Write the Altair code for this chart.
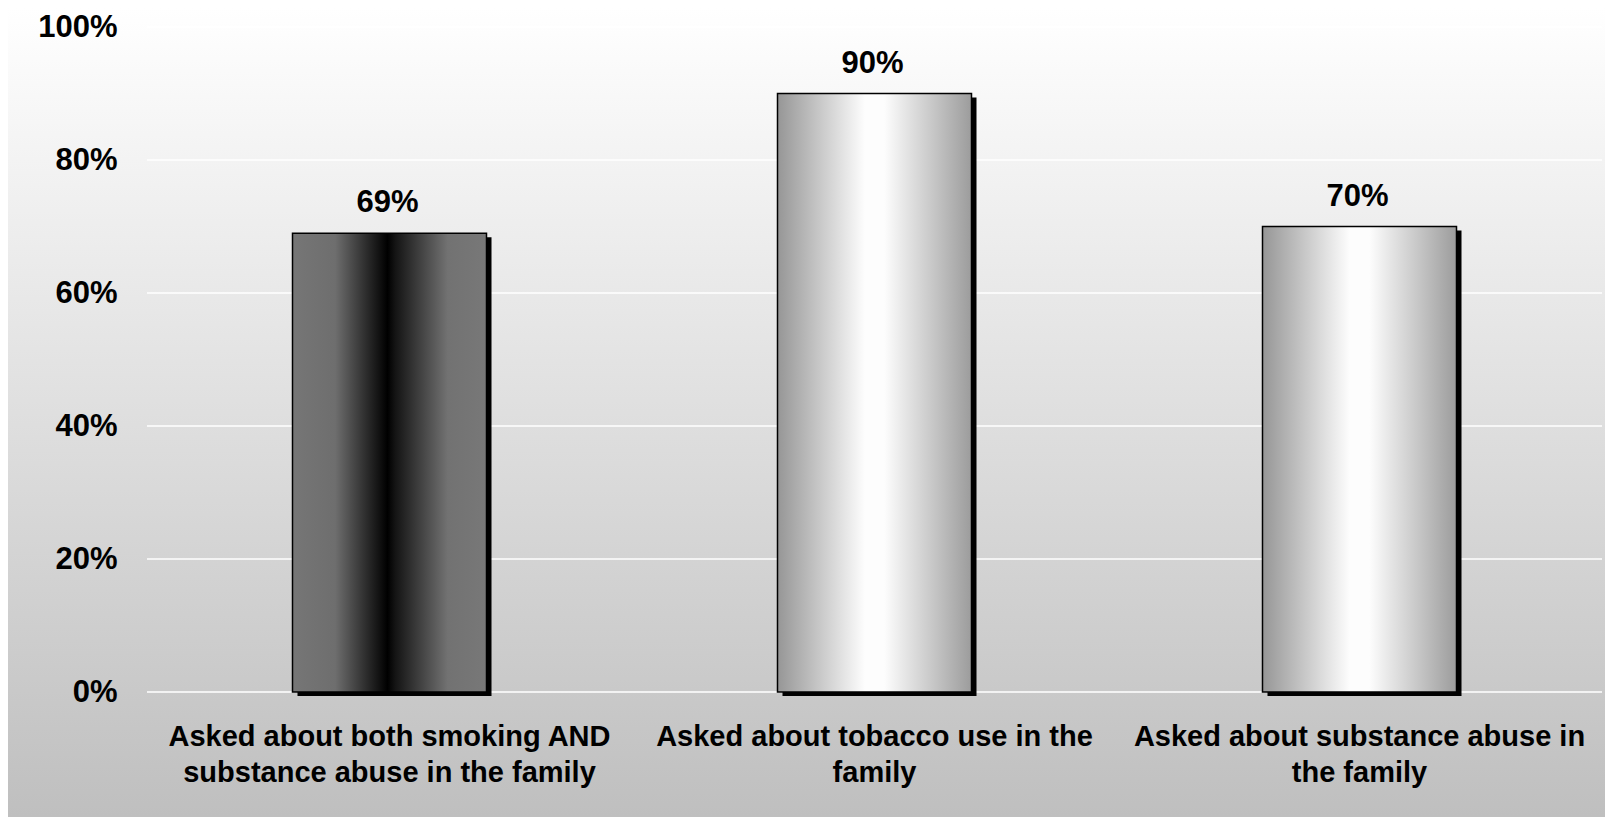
import altair as alt
import pandas as pd

categories = [
    "Asked about both smoking AND\nsubstance abuse in the family",
    "Asked about tobacco use in the\nfamily",
    "Asked about substance abuse in\nthe family",
]
values = [0.69, 0.90, 0.70]
labels = ["69%", "90%", "70%"]
styles = ["dark", "light", "light"]
ticks = [0, 0.2, 0.4, 0.6, 0.8, 1.0]

df = pd.DataFrame({"cat": categories, "val": values, "lab": labels, "style": styles})

FONT = "Liberation Sans"
W, H = 1455, 665
PAD = {"left": 139, "top": 19, "right": 3, "bottom": 125}

xenc = alt.X("cat:N", sort=categories,
             scale=alt.Scale(paddingInner=0.6, paddingOuter=0.3),
             axis=alt.Axis(title=None, labelAngle=0, domain=False, ticks=False,
                           labelExpr="split(datum.label, '\\n')", zindex=2,
                           labelFont=FONT, labelFontWeight="bold", labelFontSize=29,
                           labelColor="black", labelPadding=30, labelLineHeight=36.5,
                           labelLimit=600))
yenc = alt.Y("val:Q", scale=alt.Scale(domain=[0, 1]),
             axis=alt.Axis(title=None, format="%", values=ticks, zindex=2,
                           domain=False, ticks=False, grid=False,
                           labelFont=FONT, labelFontWeight="bold",
                           labelFontSize=31, labelColor="black", labelPadding=30))

bg = alt.Chart(alt.Data(values=[{"a": 1}])).mark_rect(
    clip=False,
    color=alt.LinearGradient(gradient="linear", x1=0, x2=0, y1=0, y2=1,
                             stops=[alt.GradientStop(offset=0, color="#ffffff"),
                                    alt.GradientStop(offset=1, color="#bfbfbf")])
).encode(x=alt.value(-PAD["left"]), x2=alt.value(W + PAD["right"]),
         y=alt.value(-PAD["top"]), y2=alt.value(H + PAD["bottom"]))

grid = alt.Chart(pd.DataFrame({"t": ticks})).mark_rule(color="white", strokeWidth=1.5).encode(
    y=alt.Y("t:Q", scale=alt.Scale(domain=[0, 1])), x=alt.value(0), x2=alt.value(W))

base = alt.Chart(df)

axes = base.mark_bar(opacity=0).encode(x=xenc, y=yenc)

shadow = base.mark_bar(color="black", xOffset=5, yOffset=4).encode(x=xenc, y="val:Q")

dark_grad = alt.LinearGradient(gradient="linear", x1=0, x2=1, y1=0, y2=0, stops=[
    alt.GradientStop(offset=0, color="#767676"),
    alt.GradientStop(offset=0.22, color="#6e6e6e"),
    alt.GradientStop(offset=0.49, color="#000000"),
    alt.GradientStop(offset=0.53, color="#141414"),
    alt.GradientStop(offset=0.8, color="#727272"),
    alt.GradientStop(offset=1, color="#787878"),
])
light_grad = alt.LinearGradient(gradient="linear", x1=0, x2=1, y1=0, y2=0, stops=[
    alt.GradientStop(offset=0, color="#969696"),
    alt.GradientStop(offset=0.45, color="#fdfdfd"),
    alt.GradientStop(offset=0.55, color="#fdfdfd"),
    alt.GradientStop(offset=1, color="#9c9c9c"),
])

bar_dark = base.transform_filter(alt.datum.style == "dark").mark_bar(
    color=dark_grad, stroke="black", strokeWidth=1.5).encode(x=xenc, y="val:Q")
bar_light = base.transform_filter(alt.datum.style == "light").mark_bar(
    color=light_grad, stroke="black", strokeWidth=1.5).encode(x=xenc, y="val:Q")

text = base.mark_text(font=FONT, fontWeight="bold", fontSize=31, color="black",
                      baseline="alphabetic", dy=-21, dx=-2).encode(
    x=xenc, y="val:Q", text="lab:N")

chart = alt.layer(bg, grid, axes, shadow, bar_dark, bar_light, text).properties(
    width=W, height=H, padding=PAD, autosize="none"
).configure_view(stroke=None).configure(background="white")

chart.save("out.html", embed_options={"renderer": "svg", "actions": False})
